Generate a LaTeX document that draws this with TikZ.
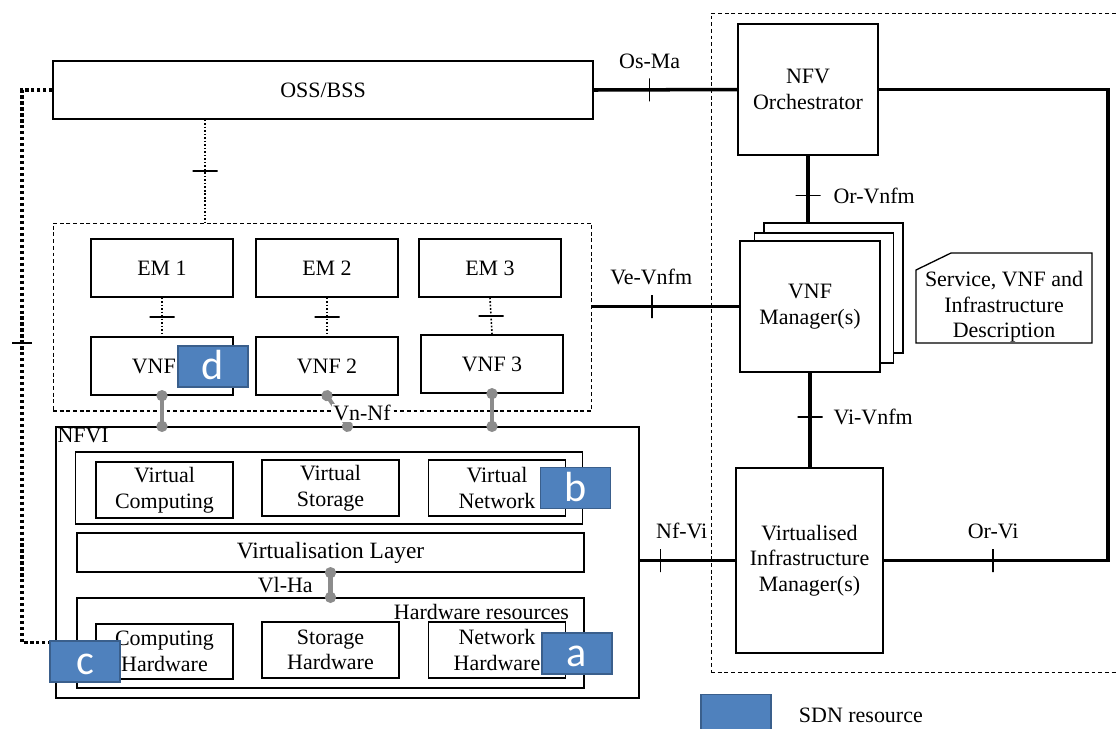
\documentclass[tikz,border=0pt]{standalone}
\usepackage{fontspec}
\setmainfont{Liberation Serif}
\newfontfamily\figfont{Liberation Serif}
\newfontfamily\sdnfont{Carlito}
\usetikzlibrary{arrows.meta, positioning, calc}
\definecolor{sdnblue}{HTML}{4F81BD}
\definecolor{sdnedge}{HTML}{3A5F8C}
\definecolor{ifgray}{HTML}{8C8C8C}

\begin{document}
\begin{tikzpicture}[x=0.02cm, y=-0.02cm,
    box/.style={draw, line width=0.75pt, fill=white, align=center, inner sep=1pt, font=\figfont\fontsize{12.5}{14.5}\selectfont},
    area/.style={draw, line width=0.6pt, dash pattern=on 2.2pt off 1.6pt, inner sep=0pt},
    lbl/.style={inner sep=1pt, align=center, font=\figfont\fontsize{12.5}{14.5}\selectfont},
    sdn/.style={draw=sdnedge, line width=1pt, fill=sdnblue, text=white, minimum width=1.4cm, minimum height=0.82cm,
                inner sep=0pt, text height=16pt, text depth=1pt, font=\sdnfont\fontsize{24}{24}\selectfont},
    link/.style={line width=2pt},
    mgmt/.style={line width=0.9pt, dash pattern=on 0.9pt off 1.1pt},
    oam/.style={line width=1.8pt, dash pattern=on 1.8pt off 1.6pt},
    ifl/.style={draw=ifgray, line width=2.3pt, arrows={Circle[length=0.22cm]-Circle[length=0.22cm]},
                shorten <=-0.11cm, shorten >=-0.11cm},
    vtick/.style={draw, solid, line width=0.8pt, inner sep=0pt, minimum width=0pt, minimum height=0.46cm},
    htick/.style={draw, solid, line width=0.8pt, inner sep=0pt, minimum height=0pt, minimum width=0.5cm}]

\useasboundingbox (0,0) rectangle (1118,728);

\node[area, minimum width=8.4cm, minimum height=13.2cm] (mano) at (921,343) {};
\node[area, minimum width=10.78cm, minimum height=3.76cm] (vnfarea) at (322.5,317) {};

\node[box, minimum width=10.8cm, minimum height=1.16cm] (oss) at (323,90) {OSS/BSS};

\node[box, minimum width=2.84cm, minimum height=1.16cm] (em1) at (162,268) {EM 1};
\node[box, minimum width=2.84cm, minimum height=1.16cm] (em2) at (327,268) {EM 2};
\node[box, minimum width=2.84cm, minimum height=1.16cm] (em3) at (490,268) {EM 3};
\node[box, minimum width=2.84cm, minimum height=1.16cm] (vnf1) at (162,366) {VNF 1};
\node[box, minimum width=2.84cm, minimum height=1.16cm] (vnf2) at (327,366) {VNF 2};
\node[box, minimum width=2.84cm, minimum height=1.16cm] (vnf3) at (492,364) {VNF 3};

\node[box, minimum width=11.66cm, minimum height=5.42cm] (nfvi) at (347.5,562.5) {};
\node[lbl, anchor=north west] (nfvilbl) at (nfvi.north west) {NFVI};
\node[box, minimum width=10.14cm, minimum height=1.44cm] (virt) at (329,488) {};
\node[box, minimum width=2.74cm, minimum height=1.12cm] (vcomp) at (164.5,490) {Virtual\\Computing};
\node[box, minimum width=2.74cm, minimum height=1.12cm] (vstor) at (330.5,488) {Virtual\\Storage};
\node[box, minimum width=2.74cm, minimum height=1.12cm] (vnet) at (497,488) {Virtual\\Network};
\node[box, minimum width=10.14cm, minimum height=0.78cm, font=\figfont\fontsize{13.3}{15}\selectfont] (vlayer) at (330.5,552.5) {Virtualisation Layer};
\node[box, minimum width=10.14cm, minimum height=1.8cm] (hw) at (330.5,643) {};
\node[lbl, anchor=east] (hwlbl) at (571,612) {Hardware resources};
\node[box, minimum width=2.74cm, minimum height=1.1cm] (chw) at (164.5,651.5) {Computing\\Hardware};
\node[box, minimum width=2.74cm, minimum height=1.12cm] (shw) at (330.5,650) {Storage\\Hardware};
\node[box, minimum width=2.74cm, minimum height=1.12cm] (nhw) at (497,650) {Network\\Hardware};

\node[box, minimum width=2.8cm, minimum height=2.62cm] (nfvo) at (808,89.5) {NFV\\Orchestrator};
\node[box, minimum width=2.78cm, minimum height=2.6cm] (vnfmc) at (833.5,288) {};
\node[box, minimum width=2.78cm, minimum height=2.6cm] (vnfmb) at (824,298) {};
\node[box, minimum width=2.8cm, minimum height=2.62cm] (vnfm) at (810,306.5) {VNF\\Manager(s)};
\node[box, minimum width=2.94cm, minimum height=3.7cm] (vim) at (809.5,560.5) {Virtualised\\Infrastructure\\Manager(s)};

\node[lbl] (desc) at (1004,307) {Service, VNF and\\Infrastructure\\Description};
\draw[line width=0.75pt] ($(desc)+(-88,36)$) -- ($(desc)+(-88,-37)$) -- ($(desc)+(-53,-54)$)
    -- ($(desc)+(88,-54)$) -- ($(desc)+(88,36)$) -- cycle;

\coordinate (rail) at (1108,300);
\coordinate (lrail) at (22,343);
\coordinate (ossdrop) at ([xshift=-2.36cm]oss.south);

\draw[link] (oss.east) -- node[pos=0.39, vtick] {} node[pos=0.39, lbl, above=0.36cm] {Os-Ma} (nfvo.west);
\draw[link] (nfvo.east) -| (rail) |- node[pos=0.756, vtick] {} node[pos=0.756, lbl, above=0.36cm] {Or-Vi} (vim.east);
\draw[link] (nfvo.south) -- node[pos=0.6, htick] {} node[pos=0.6, lbl, right=0.44cm] {Or-Vnfm} (nfvo.south |- vnfmc.north);
\draw[link] (vnfm.south) -- node[pos=0.47, htick] {} node[pos=0.47, lbl, right=0.4cm] {Vi-Vnfm} (vnfm.south |- vim.north);
\draw[link] (vnfarea.east |- vnfm.west) -- node[pos=0.405, vtick] {} node[pos=0.4, lbl, above=0.36cm] {Ve-Vnfm} (vnfm.west);
\draw[link] (nfvi.east |- vim.west) -- node[pos=0.22, vtick] {} node[pos=0.44, lbl, above=0.36cm] {Nf-Vi} (vim.west);

\draw[mgmt] (ossdrop) -- node[midway, htick] {} (ossdrop |- vnfarea.north);
\foreach \i in {1,2,3}
    \draw[mgmt] (em\i.south) -- node[midway, htick] {} (vnf\i.north);
\draw[oam] (oss.west) -| (lrail) node[htick, minimum width=0.4cm] {} |- ([yshift=1.12cm]nfvi.south west);

\draw[ifl] (vnf1.south) -- (vnf1.south |- nfvi.north);
\draw[ifl] (vnf2.south) -- (nfvi.north);
\draw[ifl] (vnf3.south) -- (vnf3.south |- nfvi.north);
\node[lbl, fill=white, inner sep=0.5pt] (vnnf) at (362,413) {Vn-Nf};
\draw[ifl] (vlayer.south) -- node[midway, lbl, left=0.28cm] {Vl-Ha} (hw.north);

\node[sdn] (sdna) at (577,653.5) {a};
\node[sdn] (sdnb) at (575.5,488) {b};
\node[sdn] (sdnc) at (85,661.5) {c};
\node[sdn] (sdnd) at (213,366.5) {d};
\node[sdn] (legend) at (736,715) {};
\node[lbl, right=0.5cm of legend] (legendlbl) {SDN resource};
\end{tikzpicture}
\end{document}
